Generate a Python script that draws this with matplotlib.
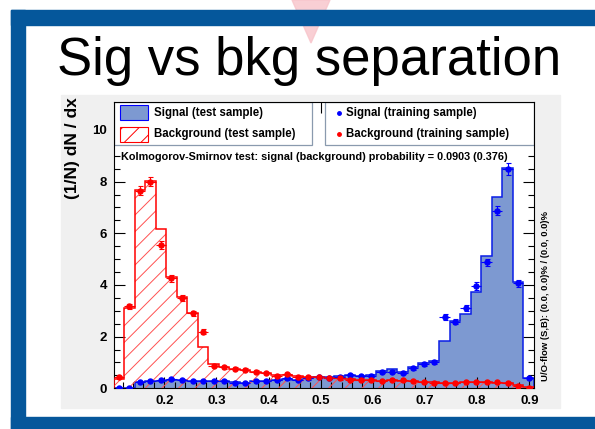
import numpy as np
import matplotlib.pyplot as plt
from matplotlib.patches import Rectangle, Polygon
from matplotlib.transforms import Affine2D

plt.rcParams['font.family'] = ['Liberation Sans', 'DejaVu Sans']
plt.rcParams['hatch.linewidth'] = 0.7

# classifier output histograms, 40 bins
x_lo, x_hi, n_bins = 0.103, 0.909, 40

bkg_test = [0.36, 3.12, 7.68, 8.04, 6.15, 4.32, 3.55, 2.90, 1.61, 0.94,
            0.81, 0.75, 0.70, 0.64, 0.60, 0.50, 0.53, 0.46, 0.45, 0.43,
            0.41, 0.38, 0.35, 0.34, 0.32, 0.30, 0.31, 0.30, 0.28, 0.25,
            0.23, 0.21, 0.21, 0.24, 0.25, 0.23, 0.22, 0.19, 0.11, 0.04]
bkg_train = [0.43, 3.17, 7.65, 8.00, 5.55, 4.26, 3.48, 2.90, 2.19, 0.88,
             0.81, 0.76, 0.72, 0.64, 0.60, 0.48, 0.54, 0.45, 0.45, 0.43,
             0.41, 0.38, 0.34, 0.34, 0.32, 0.29, 0.32, 0.32, 0.29, 0.24,
             0.22, 0.19, 0.20, 0.26, 0.26, 0.24, 0.23, 0.20, 0.10, 0.01]
bkg_err = [0.05, 0.10, 0.17, 0.18, 0.15, 0.13, 0.12, 0.11, 0.10, 0.06,
           0.05, 0.05, 0.05, 0.05, 0.05, 0.04, 0.04, 0.04, 0.04, 0.04,
           0.04, 0.04, 0.04, 0.04, 0.04, 0.03, 0.03, 0.03, 0.03, 0.03,
           0.03, 0.03, 0.03, 0.03, 0.03, 0.03, 0.03, 0.03, 0.02, 0.01]

sig_test = [0.00, 0.02, 0.24, 0.28, 0.30, 0.33, 0.31, 0.29, 0.30, 0.29,
            0.28, 0.24, 0.21, 0.28, 0.29, 0.33, 0.37, 0.34, 0.39, 0.43,
            0.42, 0.46, 0.52, 0.49, 0.50, 0.66, 0.75, 0.64, 0.84, 0.99,
            1.07, 1.84, 2.62, 2.87, 3.74, 5.12, 7.41, 8.51, 4.13, 0.38]
sig_train = [0.00, 0.02, 0.23, 0.30, 0.32, 0.35, 0.32, 0.28, 0.30, 0.30,
             0.28, 0.22, 0.19, 0.29, 0.28, 0.34, 0.38, 0.32, 0.38, 0.45,
             0.41, 0.45, 0.52, 0.48, 0.49, 0.64, 0.64, 0.61, 0.77, 0.94,
             1.02, 2.75, 2.58, 3.10, 3.96, 4.87, 6.88, 8.48, 4.06, 0.39]
sig_err = [0.01, 0.01, 0.03, 0.03, 0.03, 0.04, 0.03, 0.03, 0.03, 0.03,
           0.03, 0.03, 0.03, 0.03, 0.03, 0.04, 0.04, 0.04, 0.04, 0.04,
           0.04, 0.04, 0.05, 0.05, 0.05, 0.05, 0.05, 0.05, 0.06, 0.06,
           0.07, 0.11, 0.10, 0.11, 0.14, 0.15, 0.19, 0.22, 0.13, 0.04]

W, H = 595, 429
fig = plt.figure(figsize=(W / 100, H / 100), dpi=100)
fig.patch.set_facecolor('white')
# pixel coords, origin top-left
pix = Affine2D().scale(1.0 / W, -1.0 / H).translate(0, 1) + fig.transFigure

# slide decoration
blue = '#05579b'
fig.patches.append(Polygon([(292, 0), (330, 0), (311, 43)], closed=True, transform=pix,
                           color='#f8c4ca', alpha=0.8, zorder=-2.5))
fig.patches.append(Rectangle((11, 9.5), W - 11, 15, transform=pix, color=blue, zorder=-2))
fig.patches.append(Rectangle((11, 9.5), 13.5, H, transform=pix, color=blue, zorder=-2))
fig.patches.append(Rectangle((11, 417), W - 11, 12, transform=pix, color=blue, zorder=-2))
fig.patches.append(Rectangle((61, 95), 499, 313, transform=pix, color='#f0f0f0', zorder=-1))
fig.text(57 / W, 1 - 75 / H, 'Sig vs bkg separation', fontsize=38, ha='left',
         va='baseline', color='black')

ax_l, ax_r, ax_t, ax_b = 113.7, 534.0, 102.0, 388.3
ax = fig.add_axes([ax_l / W, 1 - ax_b / H, (ax_r - ax_l) / W, (ax_b - ax_t) / H])
ax.set_facecolor('white')
ax.set_zorder(1)

edges = np.linspace(x_lo, x_hi, n_bins + 1)
centers = 0.5 * (edges[:-1] + edges[1:])
half = 0.5 * (edges[1] - edges[0])

ax.stairs(sig_test, edges, fill=True, color='#7d99d1', zorder=1)
ax.stairs(sig_test, edges, color='#0a1ee6', lw=1.1, zorder=2)
ax.stairs(bkg_test, edges, fill=True, facecolor='none', edgecolor='#ff5050',
          hatch='//', lw=0, zorder=3)
ax.stairs(bkg_test, edges, color='#ff0000', lw=1.1, zorder=4)

for vals, err, col in [(sig_train, sig_err, '#0000ff'), (bkg_train, bkg_err, '#ff0000')]:
    ax.errorbar(centers, vals, xerr=half, fmt='none', ecolor=col, elinewidth=0.8, zorder=5)
    ax.errorbar(centers, vals, yerr=err, fmt='o', ms=3.6, color=col, ecolor=col,
                elinewidth=0.8, capsize=1.8, capthick=0.8, zorder=5)

ax.set_xlim(x_lo, x_hi)
ax.set_ylim(0, 11.08)
ax.set_xticks(np.arange(0.2, 0.91, 0.1))
ax.set_xticklabels(['0.2', '0.3', '0.4', '0.5', '0.6', '0.7', '0.8', '0.9'])
ax.set_xticks(np.arange(0.12, 0.91, 0.02), minor=True)
ax.set_yticks([0, 2, 4, 6, 8, 10])
ax.set_yticks(np.arange(0, 11.01, 0.5), minor=True)
ax.tick_params(which='both', direction='in', top=True, right=True, width=0.8)
ax.tick_params(which='major', length=8, pad=5, labelsize=9.5)
ax.tick_params(which='minor', length=4)
for lab in ax.get_xticklabels() + ax.get_yticklabels():
    lab.set_fontweight('bold')
for s in ax.spines.values():
    s.set_linewidth(0.8)

# legend boxes
ax.add_patch(Rectangle((ax_l, ax_t), 312 - ax_l, 43, transform=pix, facecolor='white',
                       edgecolor='#8a9aae', lw=0.9, zorder=2.3))
ax.add_patch(Rectangle((325, ax_t), ax_r - 325, 43, transform=pix, facecolor='white',
                       edgecolor='#8a9aae', lw=0.9, zorder=2.3))
ax.add_patch(Rectangle((120, 105), 28, 15, transform=pix, facecolor='#7d99d1',
                       edgecolor='#0000ff', lw=0.8, zorder=2.4))
ax.add_patch(Rectangle((120, 127), 28, 15, transform=pix, facecolor='white',
                       edgecolor='#ff0000', hatch='//', lw=0.8, zorder=2.4))
ax.plot([339], [113], 'o', ms=2.5, color='#0000ff', transform=pix, zorder=2.4, clip_on=False)
ax.plot([339], [134], 'o', ms=2.5, color='#ff0000', transform=pix, zorder=2.4, clip_on=False)

leg = dict(transform=pix, fontsize=8.3, fontweight='bold', va='center', ha='left', zorder=2.45)
ax.text(154, 113, 'Signal (test sample)', **leg)
ax.text(154, 134, 'Background (test sample)', **leg)
ax.text(346, 113, 'Signal (training sample)', **leg)
ax.text(346, 134, 'Background (training sample)', **leg)
ax.text(121, 157, 'Kolmogorov-Smirnov test: signal (background) probability = 0.0903 (0.376)',
        transform=pix, fontsize=7.8, fontweight='bold', va='center', ha='left', zorder=2.45)

fig.text(72 / W, 1 - 148 / H, '(1/N) dN / dx', rotation=90, fontsize=12.5,
         fontweight='bold', ha='center', va='center')
fig.text(545 / W, 1 - 296 / H, 'U/O-flow (S,B): (0.0, 0.0)% / (0.0, 0.0)%', rotation=90,
         fontsize=6.8, fontweight='bold', ha='center', va='center')

fig.savefig('out.png', dpi=100)
